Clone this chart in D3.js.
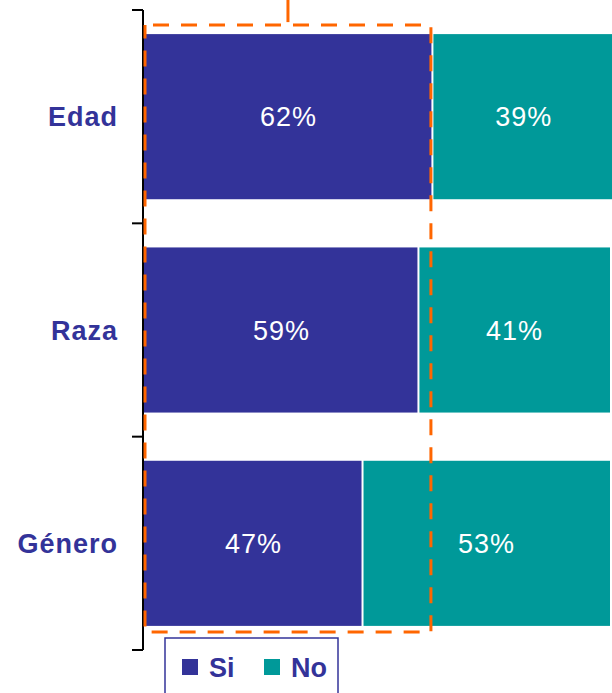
<!DOCTYPE html>
<html>
<head>
<meta charset="utf-8">
<script src="https://cdn.jsdelivr.net/npm/d3@7"></script>
<style>
  html, body { margin: 0; padding: 0; background: #fff; }
  svg { display: block; }
</style>
</head>
<body>
<svg id="chart" width="612" height="693"></svg>
<script>
const categories = ["Edad", "Raza", "Género"];
const siValues = [62, 59, 47];
const noValues = [39, 41, 53];
const siLabels = ["62%", "59%", "47%"];
const noLabels = ["39%", "41%", "53%"];
const legendNames = ["Si", "No"];

const colSi = "#333399", colNo = "#009999", orange = "#FF6600";
const font = "'Liberation Sans', Arial, Helvetica, sans-serif";

const svg = d3.select("#chart");
const y = d3.scaleBand().domain(categories).range([10, 650]).paddingInner(0.226).paddingOuter(0.113);
const x = d3.scaleLinear().domain([0, 100]).range([144, 610]);

const data = categories.map((c, i) => ({ c, si: siValues[i], no: noValues[i], sl: siLabels[i], nl: noLabels[i] }));

const g = svg.append("g");
// Si bars
g.selectAll("rect.si").data(data).join("rect").attr("class", "si")
  .attr("x", x(0)).attr("y", d => y(d.c))
  .attr("width", d => x(d.si) - x(0) - 1.5).attr("height", y.bandwidth())
  .attr("fill", colSi);
// No bars
g.selectAll("rect.no").data(data).join("rect").attr("class", "no")
  .attr("x", d => x(d.si) + 0.5).attr("y", d => y(d.c))
  .attr("width", d => x(d.si + d.no) - x(d.si) - 0.5).attr("height", y.bandwidth())
  .attr("fill", colNo);

// value labels
g.selectAll("text.sl").data(data).join("text").attr("class", "sl")
  .attr("x", d => (x(0) + x(d.si)) / 2).attr("y", d => y(d.c) + y.bandwidth() / 2)
  .attr("dy", "0.36em").attr("text-anchor", "middle")
  .style("font-family", font).style("font-size", "27px").style("letter-spacing", "1px")
  .attr("fill", "#fff").text(d => d.sl);
g.selectAll("text.nl").data(data).join("text").attr("class", "nl")
  .attr("x", d => (x(d.si) + x(d.si + d.no)) / 2).attr("y", d => y(d.c) + y.bandwidth() / 2)
  .attr("dy", "0.36em").attr("text-anchor", "middle")
  .style("font-family", font).style("font-size", "27px").style("letter-spacing", "1px")
  .attr("fill", "#fff").text(d => d.nl);

// category labels
g.selectAll("text.cat").data(data).join("text").attr("class", "cat")
  .attr("x", 118).attr("y", d => y(d.c) + y.bandwidth() / 2)
  .attr("dy", "0.36em").attr("text-anchor", "end")
  .style("font-family", font).style("font-size", "27px").style("font-weight", "bold")
  .style("letter-spacing", "1px")
  .attr("fill", colSi).text(d => d.c);

// axis line and boundary ticks
const r = y.range();
const boundaries = categories.map(c => y(c) - y.step() * y.paddingOuter()).concat([r[1]]);
g.append("line").attr("x1", x(0) - 1).attr("x2", x(0) - 1).attr("y1", r[0]).attr("y2", r[1])
  .attr("stroke", "#000").attr("stroke-width", 2);
g.selectAll("line.tick").data(boundaries).join("line").attr("class", "tick")
  .attr("x1", x(0) - 12).attr("x2", x(0) - 1).attr("y1", d => d).attr("y2", d => d)
  .attr("stroke", "#000").attr("stroke-width", 2);

// orange dashed highlight box around Edad's Si extent
const boxL = x(0) + 1, boxR = x(siValues[0]) - 2;
const boxT = y(categories[0]) - 9, boxB = y(categories[2]) + y.bandwidth() + 6;
g.append("rect").attr("x", boxL).attr("y", boxT).attr("width", boxR - boxL).attr("height", boxB - boxT)
  .attr("fill", "none").attr("stroke", orange).attr("stroke-width", 3)
  .attr("stroke-dasharray", "16,12").attr("stroke-dashoffset", -8);
g.append("line").attr("x1", (boxL + boxR) / 2).attr("x2", (boxL + boxR) / 2)
  .attr("y1", 0).attr("y2", boxT - 3)
  .attr("stroke", orange).attr("stroke-width", 3);

// legend
const lg = svg.append("g");
lg.append("rect").attr("x", 165).attr("y", 638).attr("width", 173).attr("height", 70)
  .attr("fill", "#fff").attr("stroke", colSi).attr("stroke-width", 1.5);
const legendColors = [colSi, colNo];
const lx = [182, 264];
legendNames.forEach((n, i) => {
  lg.append("rect").attr("x", lx[i]).attr("y", 659).attr("width", 16).attr("height", 16).attr("fill", legendColors[i]);
  lg.append("text").attr("x", lx[i] + 27).attr("y", 667).attr("dy", "0.36em")
    .style("font-family", font).style("font-size", "27px").style("font-weight", "bold")
    .attr("fill", colSi).text(n);
});
</script>
</body>
</html>
